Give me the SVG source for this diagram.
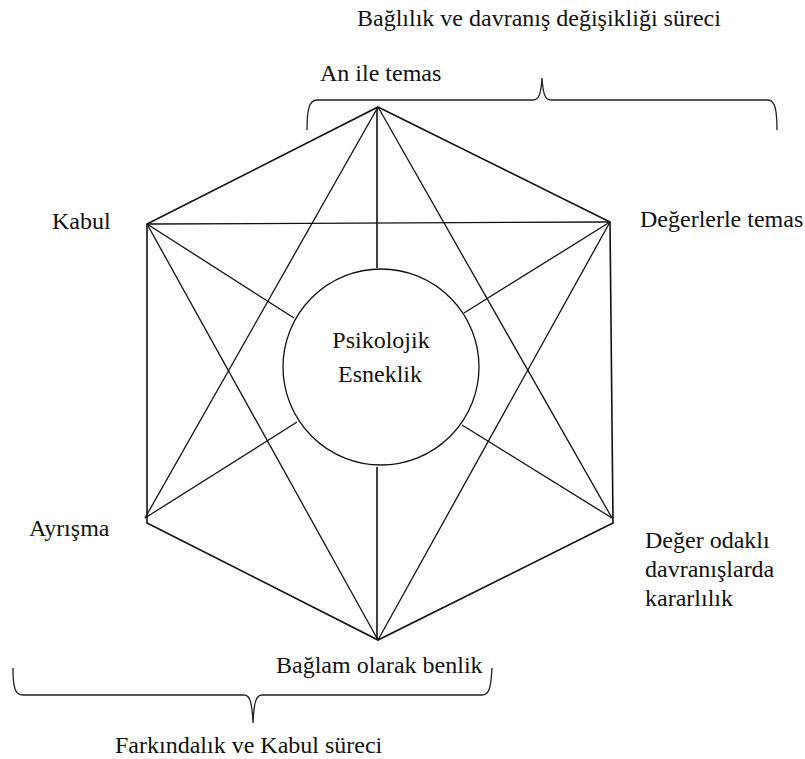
<svg xmlns="http://www.w3.org/2000/svg" width="805" height="759" viewBox="0 0 805 759">
<style>
.t{font-family:"Liberation Serif","Times New Roman",serif;font-size:24px;fill:#111}
.c{text-anchor:middle}
.l{stroke:#111;stroke-width:1.3;fill:none}
.e{stroke:#111;stroke-width:1.6;fill:none}
.b{stroke:#222;stroke-width:1.3;fill:none}
</style>
<rect width="805" height="759" fill="#fff"/>
<g id="connectors">
<polygon class="e" points="378,107 610,222 613,523 378,640 147,523 147,224"/>
<line class="l" x1="147" y1="224" x2="610" y2="222"/>
<line class="l" x1="378" y1="107" x2="145" y2="518"/>
<line class="l" x1="378" y1="107" x2="612" y2="518"/>
<line class="l" x1="378" y1="640" x2="147" y2="224"/>
<line class="l" x1="378" y1="640" x2="610" y2="222"/>
<line class="e" x1="377" y1="107" x2="377" y2="268"/>
<line class="e" x1="377" y1="467" x2="377" y2="640"/>
<line class="l" x1="147" y1="224" x2="294" y2="318"/>
<line class="l" x1="610" y1="222" x2="464" y2="313"/>
<line class="l" x1="145" y1="518" x2="297" y2="422"/>
<line class="l" x1="612" y1="518" x2="462" y2="425"/>
</g>
<g id="center">
<circle class="l" cx="381" cy="367" r="98" fill="#fff"/>
<text class="t c" x="381" y="348">Psikolojik</text>
<text class="t c" x="380" y="382">Esneklik</text>
</g>
<g id="n-an"><text class="t" x="320" y="81">An ile temas</text></g>
<g id="n-kabul"><text class="t" x="52" y="229">Kabul</text></g>
<g id="n-degerlerle"><text class="t" x="640" y="227">Değerlerle temas</text></g>
<g id="n-ayrisma"><text class="t" x="29" y="536">Ayrışma</text></g>
<g id="n-deger-odakli"><text class="t" x="645" y="548">Değer odaklı</text><text class="t" x="645" y="577">davranışlarda</text><text class="t" x="645" y="606">kararlılık</text></g>
<g id="n-baglam"><text class="t" x="276" y="673">Bağlam olarak benlik</text></g>
<g id="brace-top">
<path class="b" d="M307,130 C307,110 309,100 317,100 L533,100 C539,100 541,94 542,78 C543,94 545,100 551,100 L768,100 C775,100 777,110 777,130"/>
<text class="t" x="357" y="26">Bağlılık ve davranış değişikliği süreci</text>
</g>
<g id="brace-bottom">
<path class="b" d="M13,668 C13,688 15,695 23,695 L244,695 C250,695 252,702 253,723 C254,702 256,695 262,695 L482,695 C489,695 491,688 492,668"/>
<text class="t" x="115" y="753">Farkındalık ve Kabul süreci</text>
</g>
</svg>
